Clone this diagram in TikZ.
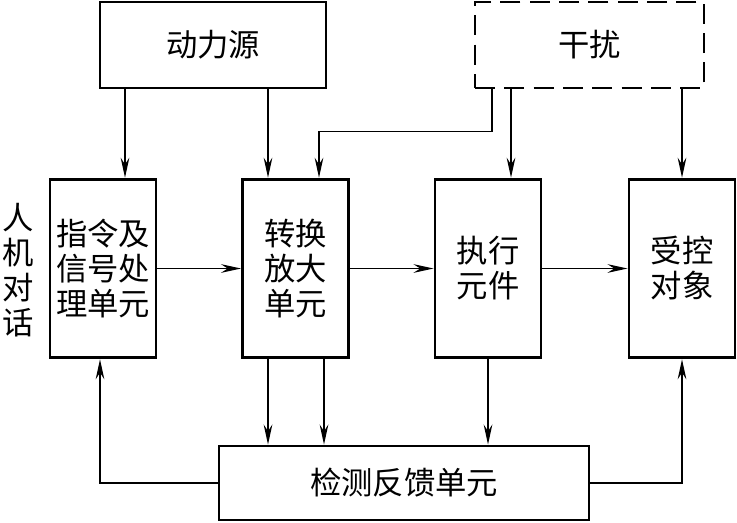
\documentclass[tikz,border=0pt]{standalone}
\usepackage{fontspec}
\newfontfamily\cjk{Noto Sans CJK SC}
\usetikzlibrary{arrows.meta,calc}

\begin{document}
\begin{tikzpicture}[x=0.75pt,y=-0.75pt,>={Stealth[length=15pt,width=6.5pt,inset=5pt]},
 font=\cjk\fontsize{23.5}{26.25}\selectfont,
 blk/.style={draw,line width=2.2pt,inner sep=0pt,align=center},
 unit/.style={blk,minimum width=79.5pt,minimum height=134pt},
 link/.style={->,line width=1pt}]
\useasboundingbox (0,0) rectangle (737,522);
\node[blk,minimum width=169.5pt,minimum height=64.5pt] (power) at (213,45) {动力源};
\node[blk,line width=1.6pt,dash pattern=on 15pt off 7pt,minimum width=171.75pt,minimum height=64.5pt] (dist) at (589.5,45) {干扰};
\node[unit] (cmd) at (103,268.5) {指令及\\信号处\\理单元};
\node[unit] (amp) at (295.5,268.5) {转换\\放大\\单元};
\node[unit] (act) at (488,268.5) {执行\\元件};
\node[unit] (obj) at (682,268.5) {受控\\对象};
\node[blk,minimum width=277.5pt,minimum height=55.5pt] (fb) at (404,483) {检测反馈单元};
\node[align=center] (hmi) at (18,270) {人\\机\\对\\话};
% forward path
\draw[link] (cmd) -- (amp);
\draw[link] (amp) -- (act);
\draw[link] (act) -- (obj);
% from power source and disturbance
\coordinate (p1) at ($(cmd.north)+(22,0)$);
\coordinate (p2) at ($(amp.north)+(-27.5,0)$);
\draw[link] (p1 |- power.south) -- (p1);
\draw[link] (p2 |- power.south) -- (p2);
\coordinate (d0) at ($(dist.south)+(-97.5,0)$);
\coordinate (d1) at ($(amp.north)+(23.5,0)$);
\coordinate (d2) at ($(act.north)+(23,0)$);
\draw[link] (d0) |- ($(d1)+(0,-46)$) -- (d1);
\draw[link] (d2 |- dist.south) -- (d2);
\draw[link] (obj.north |- dist.south) -- (obj.north);
% feedback
\coordinate (a1) at ($(amp.south)+(-27.5,0)$);
\coordinate (a2) at ($(amp.south)+(28.5,0)$);
\draw[link] (a1) -- (a1 |- fb.north);
\draw[link] (a2) -- (a2 |- fb.north);
\draw[link] (act.south) -- (act.south |- fb.north);
\draw[link] (fb.west) -| ($(cmd.south)+(-3,0)$);
\draw[link] (fb.east) -| (obj.south);
\end{tikzpicture}
\end{document}
